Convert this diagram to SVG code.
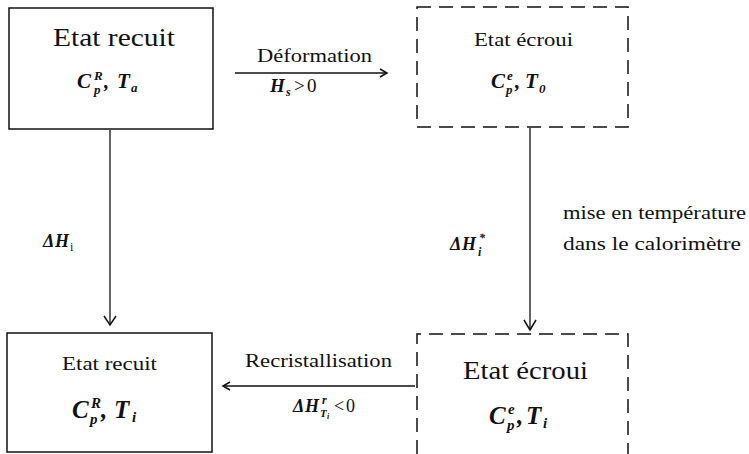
<svg xmlns="http://www.w3.org/2000/svg" width="749" height="454" viewBox="0 0 749 454">
<defs>
<style>
text{font-family:"Liberation Serif","Times New Roman",serif;fill:#111}
.m{font-style:italic;font-weight:bold}
.n{font-style:normal;font-weight:normal}
.solid{fill:none;stroke:#111;stroke-width:1.5}
.dash{fill:none;stroke:#111;stroke-width:1.5;stroke-dasharray:14 8}
.edge{fill:none;stroke:#111;stroke-width:1.3}
.head{fill:none;stroke:#111;stroke-width:1.5}
</style>
</defs>
<rect width="749" height="454" fill="#fff"/>
<g id="n1">
<rect class="solid" x="9" y="8" width="204" height="121"/>
<text x="53" y="46" font-size="25" textLength="122" lengthAdjust="spacingAndGlyphs">Etat recuit</text>
<text class="m" font-size="21"><tspan x="77" y="88">C</tspan><tspan x="94" y="80" font-size="13">R</tspan><tspan x="94" y="94" font-size="13">p</tspan><tspan x="104" y="88">,</tspan><tspan x="117" y="88">T</tspan><tspan x="131" y="92" font-size="13">a</tspan></text>
</g>
<g id="n2">
<rect class="dash" x="417" y="7" width="211" height="120"/>
<text x="474" y="46" font-size="19" textLength="99" lengthAdjust="spacingAndGlyphs">Etat écroui</text>
<text class="m" font-size="21"><tspan x="491" y="88">C</tspan><tspan x="507" y="80" font-size="13">e</tspan><tspan x="506" y="94" font-size="13">p</tspan><tspan x="515" y="88">,</tspan><tspan x="525" y="88">T</tspan><tspan x="539" y="93" font-size="13">0</tspan></text>
</g>
<g id="n3">
<rect class="solid" x="7" y="333" width="205" height="119"/>
<text x="62" y="370" font-size="18" textLength="95" lengthAdjust="spacingAndGlyphs">Etat recuit</text>
<text class="m" font-size="25"><tspan x="72" y="418">C</tspan><tspan x="91" y="408" font-size="15">R</tspan><tspan x="90" y="424" font-size="15">p</tspan><tspan x="101" y="418">,</tspan><tspan x="114" y="418">T</tspan><tspan x="132" y="422" font-size="15">i</tspan></text>
</g>
<g id="n4">
<path class="dash" d="M417 454 V334 H628 V454"/>
<text x="463" y="379" font-size="25" textLength="125" lengthAdjust="spacingAndGlyphs">Etat écroui</text>
<text class="m" font-size="25"><tspan x="489" y="424">C</tspan><tspan x="508" y="414" font-size="15">e</tspan><tspan x="507" y="430" font-size="15">p</tspan><tspan x="517" y="424">,</tspan><tspan x="526" y="424">T</tspan><tspan x="543" y="428" font-size="15">i</tspan></text>
</g>
<g id="edges">
<line class="edge" x1="235" y1="73" x2="387" y2="73"/>
<path class="head" d="M380 69 L387 73 L380 77"/>
<text x="257" y="62" font-size="18" textLength="115" lengthAdjust="spacingAndGlyphs">Déformation</text>
<text font-size="19"><tspan x="270" y="92" class="m">H</tspan><tspan x="286" y="96" font-size="12" class="m">s</tspan><tspan x="294" y="92">&gt;</tspan><tspan x="307" y="92">0</tspan></text>

<line class="edge" x1="110" y1="130" x2="110" y2="324"/>
<path class="head" d="M104 316 L110 325 L116 316"/>
<text class="m" font-size="18"><tspan x="43" y="247">Δ</tspan><tspan x="55" y="247">H</tspan><tspan x="70" y="251" font-size="12" class="n">i</tspan></text>

<line class="edge" x1="530" y1="128" x2="530" y2="329"/>
<path class="head" d="M524 320 L530 330 L536 320"/>
<text class="m" font-size="18"><tspan x="450" y="250">Δ</tspan><tspan x="462" y="250">H</tspan><tspan x="479" y="242" font-size="12">*</tspan><tspan x="478" y="256" font-size="12">i</tspan></text>
<text x="563" y="219" font-size="18" textLength="183" lengthAdjust="spacingAndGlyphs">mise en température</text>
<text x="563" y="250" font-size="18" textLength="178" lengthAdjust="spacingAndGlyphs">dans le calorimètre</text>

<line class="edge" x1="223" y1="386" x2="415" y2="386"/>
<path class="head" d="M230 382 L223 386 L230 390"/>
<text x="245" y="367" font-size="18" textLength="147" lengthAdjust="spacingAndGlyphs">Recristallisation</text>
<text font-size="18"><tspan x="293" y="412" class="m">Δ</tspan><tspan x="305" y="412" class="m">H</tspan><tspan x="322" y="404" font-size="12" class="m">r</tspan><tspan x="320" y="417" font-size="11" class="m">T</tspan><tspan x="327" y="419" font-size="8" class="m">i</tspan><tspan x="334" y="412">&lt;</tspan><tspan x="346" y="412">0</tspan></text>
</g>
</svg>
